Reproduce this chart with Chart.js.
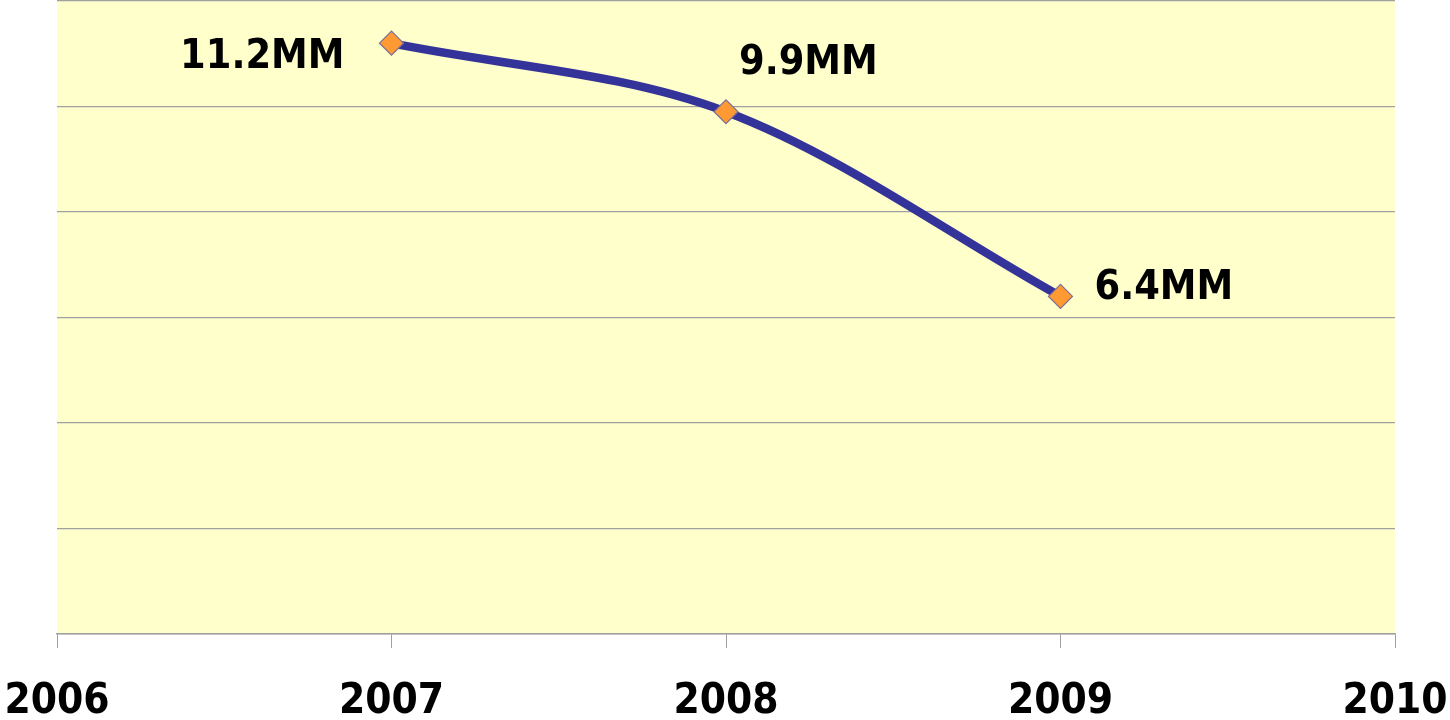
<!DOCTYPE html>
<html>
<head>
<meta charset="utf-8">
<script src="https://cdn.jsdelivr.net/npm/chart.js@4"></script>
<style>
  html, body { margin: 0; padding: 0; background: #ffffff; }
  #wrap { width: 1450px; height: 720px; position: relative; }
</style>
</head>
<body>
<div id="wrap"><canvas id="c" width="1450" height="720"></canvas></div>
<script>
// Subscribers per year (millions)
const years = [2007, 2008, 2009];
const subscribers = [11.2, 9.9, 6.4];
const valueLabels = ['11.2MM', '9.9MM', '6.4MM'];
const xTicks = [2006, 2007, 2008, 2009, 2010];

const FONT = '"DejaVu Sans Condensed", "DejaVu Sans", Verdana, sans-serif';

// Pale yellow plot background
const plotBackground = {
  id: 'plotBackground',
  beforeDraw(chart) {
    const { ctx, chartArea: a } = chart;
    ctx.save();
    ctx.fillStyle = '#FFFFCC';
    ctx.fillRect(a.left, a.top, a.right - a.left, a.bottom - a.top);
    ctx.restore();
  }
};

// Value labels placed beside each point
const labelOffsets = [
  { dx: -47, dy: 14, align: 'right' },
  { dx: 13, dy: -48, align: 'left' },
  { dx: 34, dy: -8, align: 'left' }
];
const valueLabelPlugin = {
  id: 'valueLabels',
  afterDatasetsDraw(chart) {
    const { ctx } = chart;
    const meta = chart.getDatasetMeta(0);
    ctx.save();
    ctx.font = 'bold 41px ' + FONT;
    ctx.fillStyle = '#000000';
    ctx.textBaseline = 'middle';
    meta.data.forEach((pt, i) => {
      const o = labelOffsets[i];
      ctx.textAlign = o.align;
      ctx.fillText(valueLabels[i], pt.x + o.dx, pt.y + o.dy);
    });
    ctx.restore();
  }
};

new Chart(document.getElementById('c'), {
  type: 'line',
  data: {
    datasets: [{
      data: years.map((y, i) => ({ x: y, y: subscribers[i] })),
      borderColor: '#333399',
      borderWidth: 8.5,
      tension: 0.33,
      pointStyle: 'rectRot',
      pointRadius: 12,
      pointHoverRadius: 12,
      pointBackgroundColor: '#FF9933',
      pointBorderColor: '#7A6F99',
      pointBorderWidth: 1.2,
      fill: false
    }]
  },
  options: {
    responsive: false,
    animation: false,
    events: [],
    layout: { autoPadding: false, padding: { top: 1, right: 55, left: 57, bottom: 0 } },
    plugins: { legend: { display: false }, tooltip: { enabled: false } },
    scales: {
      x: {
        type: 'linear',
        min: 2006,
        max: 2010,
        afterBuildTicks(scale) { scale.ticks = xTicks.map(v => ({ value: v })); },
        afterFit(scale) {
          scale.height = 86;
          scale.paddingLeft = 0;
          scale.paddingRight = 0;
        },
        grid: { drawOnChartArea: false, drawTicks: true, tickLength: 14, color: '#A0A0A0', tickColor: '#A0A0A0' },
        border: { display: true, color: '#A0A0A0', width: 1.5 },
        ticks: {
          autoSkip: false,
          maxRotation: 0,
          padding: 29,
          color: '#000000',
          font: { family: FONT, size: 42, weight: 'bold' },
          callback: v => String(v)
        }
      },
      y: {
        min: 0,
        max: 12,
        afterFit(scale) {
          scale.width = 0;
          scale.paddingTop = 0;
          scale.paddingBottom = 0;
        },
        ticks: { display: false, stepSize: 2 },
        grid: { color: '#A0A0A0', lineWidth: 1.2, drawTicks: false },
        border: { display: false }
      }
    }
  },
  plugins: [plotBackground, valueLabelPlugin]
});
</script>
</body>
</html>
